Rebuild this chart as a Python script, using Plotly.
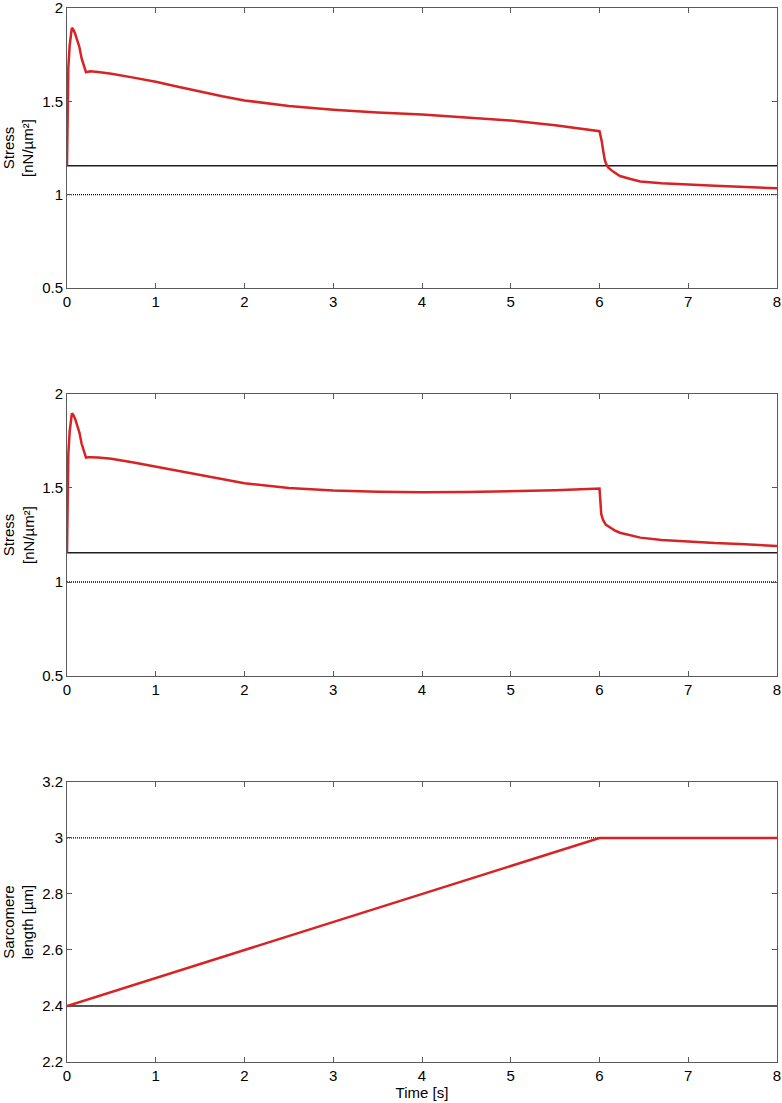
import plotly.graph_objects as go
from plotly.subplots import make_subplots

# panel 1: stress, red trace
t_a = [0, 0.004, 0.008, 0.015, 0.03, 0.045, 0.055, 0.07, 0.09, 0.11, 0.14, 0.165, 0.19, 0.214,
       0.24, 0.26, 0.35, 0.5, 0.75, 1.0, 1.25, 1.5, 1.75, 2.0, 2.5, 3.0, 3.5, 4.0, 4.5, 5.0, 5.5, 6.0,
       6.005, 6.015, 6.025, 6.04, 6.06, 6.08, 6.1, 6.15, 6.23, 6.35, 6.46, 6.7, 7.0, 7.3, 7.58, 8.0]
s_a = [1.155, 1.35, 1.52, 1.68, 1.80, 1.87, 1.894, 1.885, 1.865, 1.835, 1.79, 1.73, 1.69, 1.656,
       1.659, 1.661, 1.657, 1.648, 1.627, 1.605, 1.578, 1.552, 1.527, 1.505, 1.475, 1.455, 1.44, 1.43, 1.415, 1.397, 1.372, 1.34,
       1.33, 1.31, 1.287, 1.24, 1.185, 1.16, 1.145, 1.125, 1.10, 1.084, 1.071, 1.061, 1.053, 1.048, 1.043, 1.034]

# panel 2: stress, red trace
t_b = [0, 0.004, 0.008, 0.015, 0.03, 0.045, 0.055, 0.07, 0.09, 0.11, 0.14, 0.165, 0.19, 0.214,
       0.24, 0.26, 0.35, 0.5, 0.75, 1.0, 1.25, 1.5, 1.75, 2.0, 2.5, 3.0, 3.5, 4.0, 4.5, 5.0, 5.5, 6.0,
       6.005, 6.01, 6.02, 6.04, 6.07, 6.12, 6.17, 6.23, 6.35, 6.46, 6.7, 7.0, 7.3, 7.58, 8.0]
s_b = [1.155, 1.35, 1.52, 1.68, 1.80, 1.87, 1.897, 1.89, 1.87, 1.84, 1.795, 1.735, 1.695, 1.661,
       1.663, 1.664, 1.662, 1.655, 1.635, 1.613, 1.59, 1.565, 1.543, 1.525, 1.50, 1.487, 1.48, 1.477, 1.478, 1.482, 1.488, 1.497,
       1.46, 1.40, 1.36, 1.33, 1.305, 1.29, 1.275, 1.262, 1.247, 1.236, 1.224, 1.214, 1.207, 1.202, 1.191]

# panel 3: sarcomere length
t_c = [0, 6, 8]
sl_c = [2.4, 3.0, 3.0]

t_span = [0, 8]
stress_ref = 1.155
stress_dot = 1.0
sl_ref = 2.4
sl_dot = 3.0

RED = "rgb(215,35,35)"
FRAME = "rgb(90,90,90)"

fig = make_subplots(rows=3, cols=1, vertical_spacing=0.1)

for row, (tt, yy, ref, dot) in enumerate([(t_a, s_a, stress_ref, stress_dot),
                                          (t_b, s_b, stress_ref, stress_dot),
                                          (t_c, sl_c, sl_ref, sl_dot)], start=1):
    fig.add_trace(go.Scatter(x=t_span, y=[dot, dot], mode="lines",
                             line=dict(color="black", width=1.3, dash="1px,1px")), row=row, col=1)
    fig.add_trace(go.Scatter(x=t_span, y=[ref, ref], mode="lines",
                             line=dict(color="rgb(30,30,30)", width=1.5)), row=row, col=1)
    fig.add_trace(go.Scatter(x=tt, y=yy, mode="lines",
                             line=dict(color=RED, width=2.5)), row=row, col=1)

axis_style = dict(showline=True, linecolor=FRAME, linewidth=1, mirror="ticks",
                  ticks="inside", ticklen=5, tickcolor=FRAME, showgrid=False, zeroline=False,
                  automargin=False, ticklabeloverflow="allow",
                  tickfont=dict(size=15, color="black"))

domains = [[0.7343, 1.0], [0.3662, 0.6338], [0.0, 0.2657]]
for i in range(3):
    fig.update_xaxes(range=[0, 8], dtick=1, domain=[0, 1], row=i + 1, col=1, **axis_style)
    fig.update_yaxes(domain=domains[i], row=i + 1, col=1, **axis_style)

fig.update_yaxes(range=[0.5, 2], dtick=0.5, title_text="Stress<br>[nN/µm²]", row=1, col=1)
fig.update_yaxes(range=[0.5, 2], dtick=0.5, title_text="Stress<br>[nN/µm²]", row=2, col=1)
fig.update_yaxes(range=[2.2, 3.2], dtick=0.2, title_text="Sarcomere<br>length [µm]", row=3, col=1)
fig.update_yaxes(title_font=dict(size=15, color="black"), title_standoff=8)
fig.update_xaxes(title_text="Time [s]", title_font=dict(size=15, color="black"),
                 title_standoff=2, row=3, col=1)

fig.update_layout(
    width=782, height=1103,
    margin=dict(l=67, r=5, t=8, b=41),
    paper_bgcolor="white", plot_bgcolor="white",
    showlegend=False,
    font=dict(family="Liberation Sans, Arial, sans-serif", color="black"),
)

# drop the browser's default 8px body margin so the figure sits at 0,0
fig.write_html("out.html", config={"displayModeBar": False},
               post_script="document.body.style.margin='0';")
